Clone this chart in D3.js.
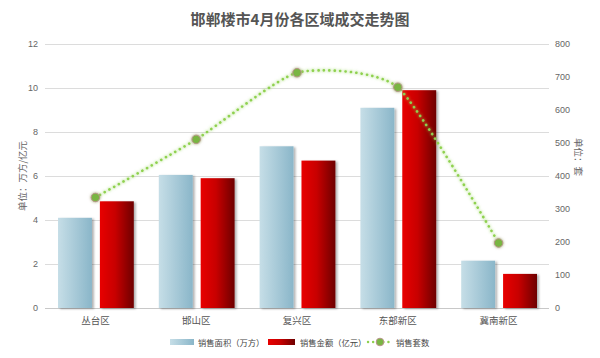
<!DOCTYPE html>
<html><head><meta charset="utf-8">
<script src="https://cdn.jsdelivr.net/npm/d3@7"></script>
<style>
body{margin:0;background:#fff;}
svg{display:block;font-family:"Noto Sans CJK SC","Noto Sans",sans-serif;}
</style></head>
<body><svg id="c" width="600" height="358"></svg>
<script>
const categories = ["丛台区","邯山区","复兴区","东部新区","冀南新区"];
const areaValues = [4.1, 6.05, 7.35, 9.1, 2.15];
const amountValues = [4.85, 5.9, 6.7, 9.9, 1.55];
const unitValues = [335, 511, 713, 669, 197];
const leftTicks = [0,2,4,6,8,10,12];
const rightTicks = [0,100,200,300,400,500,600,700,800];
const seriesNames = ["销售面积（万方）","销售金额（亿元）","销售套数"];

const svg = d3.select("#c");
const L = 45, R = 549, T = 44, B = 308;
const defs = svg.append("defs");
const g1 = defs.append("linearGradient").attr("id","gBlue").attr("x1","0").attr("x2","1").attr("y1","0").attr("y2","0");
g1.append("stop").attr("offset","0").attr("stop-color","#c6dee7");
g1.append("stop").attr("offset","1").attr("stop-color","#8ab6c9");
const g2 = defs.append("linearGradient").attr("id","gRed").attr("x1","0").attr("x2","1").attr("y1","0").attr("y2","0");
g2.append("stop").attr("offset","0").attr("stop-color","#e80000");
g2.append("stop").attr("offset","0.45").attr("stop-color","#c80000");
g2.append("stop").attr("offset","1").attr("stop-color","#6e0000");
const f = defs.append("filter").attr("id","sh").attr("x","-20%").attr("y","-20%").attr("width","150%").attr("height","150%");
f.append("feDropShadow").attr("dx",2).attr("dy",1).attr("stdDeviation",1.2).attr("flood-color","#000").attr("flood-opacity",0.3);
const gl = defs.append("filter").attr("id","glow").attr("x","-50%").attr("y","-50%").attr("width","200%").attr("height","200%");
gl.append("feGaussianBlur").attr("in","SourceGraphic").attr("stdDeviation",1.6).attr("result","b");
const fm = gl.append("feMerge"); fm.append("feMergeNode").attr("in","b"); fm.append("feMergeNode").attr("in","SourceGraphic");

const x0 = d3.scaleBand().domain(categories).range([L,R]).padding(0);
const bw = x0.bandwidth();
const x1 = d3.scaleBand().domain([0,1]).range([13, bw-12]).paddingInner(0.19);
const yL = d3.scaleLinear().domain([0,12]).range([B,T]);
const yR = d3.scaleLinear().domain([0,800]).range([B,T]);

// title
svg.append("text").attr("x",300).attr("y",25).attr("text-anchor","middle")
  .attr("font-size",15).attr("font-weight","bold").attr("fill","#555").text("邯郸楼市4月份各区域成交走势图");

// grid
const grid = svg.append("g");
leftTicks.forEach(t=>{
  grid.append("line").attr("x1",L).attr("x2",R).attr("y1",Math.round(yL(t))+0.5).attr("y2",Math.round(yL(t))+0.5)
    .attr("stroke", t===0 ? "#c8c8c8" : "#dcdcdc").attr("stroke-width",1);
});

// left axis
const axL = svg.append("g").attr("transform",`translate(${L},0)`)
  .call(d3.axisLeft(yL).tickValues(leftTicks).tickSize(0).tickPadding(7));
axL.select(".domain").remove();
axL.selectAll("text").attr("font-size",9).attr("fill","#666").attr("font-family","Liberation Sans, Arial, sans-serif");
// right axis
const axR = svg.append("g").attr("transform",`translate(${R},0)`)
  .call(d3.axisRight(yR).tickValues(rightTicks).tickSize(0).tickPadding(6));
axR.select(".domain").remove();
axR.selectAll("text").attr("font-size",9).attr("fill","#666").attr("font-family","Liberation Sans, Arial, sans-serif");

// axis titles
svg.append("text").attr("transform",`translate(26,176) rotate(-90)`).attr("text-anchor","middle")
  .attr("font-size",9.5).attr("fill","#666").text("单位：万方/亿元");
svg.append("text").attr("transform",`translate(575,157) rotate(90)`).attr("text-anchor","middle")
  .attr("font-size",9.5).attr("fill","#666").text("单位：套");

// x axis labels
const axB = svg.append("g").attr("transform",`translate(0,${B})`)
  .call(d3.axisBottom(x0).tickSize(0).tickPadding(9));
axB.select(".domain").remove();
axB.selectAll("text").attr("font-size",9.5).attr("fill","#555").attr("font-family","Noto Sans CJK SC, sans-serif");

// bars
const bars = svg.append("g");
categories.forEach((c,i)=>{
  const gx = x0(c);
  bars.append("rect").attr("x",gx+x1(0)).attr("width",x1.bandwidth())
    .attr("y",yL(areaValues[i])).attr("height",B-yL(areaValues[i]))
    .attr("fill","url(#gBlue)").attr("filter","url(#sh)");
  bars.append("rect").attr("x",gx+x1(1)).attr("width",x1.bandwidth())
    .attr("y",yL(amountValues[i])).attr("height",B-yL(amountValues[i]))
    .attr("fill","url(#gRed)").attr("filter","url(#sh)");
});

// spline (Highcharts-style smoothing)
const pts = categories.map((c,i)=>[x0(c)+bw/2, yR(unitValues[i])]);
function splinePath(p){
  const s = 4, den = s+1;
  const ctrl = p.map((pt,i)=>{
    if(i===0||i===p.length-1) return {l:pt.slice(), r:pt.slice()};
    const [x,y]=pt,[lx,ly]=p[i-1],[nx,ny]=p[i+1];
    let lcx=(s*x+lx)/den, lcy=(s*y+ly)/den, rcx=(s*x+nx)/den, rcy=(s*y+ny)/den;
    const corr=((rcy-lcy)*(rcx-x))/(rcx-lcx)+y-rcy;
    lcy+=corr; rcy+=corr;
    return {l:[lcx,lcy], r:[rcx,rcy]};
  });
  const path=d3.path();
  path.moveTo(p[0][0],p[0][1]);
  for(let i=1;i<p.length;i++){
    path.bezierCurveTo(ctrl[i-1].r[0],ctrl[i-1].r[1],ctrl[i].l[0],ctrl[i].l[1],p[i][0],p[i][1]);
  }
  return path.toString();
}
svg.append("path").attr("d",splinePath(pts)).attr("fill","none").attr("stroke","#8fd14f")
  .attr("stroke-width",2.6).attr("stroke-dasharray","0.1,5.3").attr("stroke-linecap","round").attr("filter","url(#glow)");
svg.append("g").selectAll("circle").data(pts).join("circle")
  .attr("cx",d=>d[0]).attr("cy",d=>d[1]).attr("r",4.2)
  .attr("fill","#79b543").attr("stroke","#b8958a").attr("stroke-width",1).attr("filter","url(#glow)");

// legend
const lg = svg.append("g").attr("font-size",8.3).attr("fill","#444");
lg.append("rect").attr("x",170).attr("y",339).attr("width",24).attr("height",6).attr("fill","url(#gBlue)");
lg.append("text").attr("x",198).attr("y",345.5).text(seriesNames[0]);
lg.append("rect").attr("x",268).attr("y",339).attr("width",27).attr("height",6).attr("fill","url(#gRed)");
lg.append("text").attr("x",300).attr("y",345.5).text(seriesNames[1]);
lg.append("line").attr("x1",368).attr("x2",392).attr("y1",342).attr("y2",342).attr("stroke","#8fd14f")
  .attr("stroke-width",2.4).attr("stroke-dasharray","0.1,5").attr("stroke-linecap","round");
lg.append("circle").attr("cx",380).attr("cy",342).attr("r",3.8).attr("fill","#79b543").attr("stroke","#b8958a");
lg.append("text").attr("x",396).attr("y",345.5).text(seriesNames[2]);
</script></body></html>
